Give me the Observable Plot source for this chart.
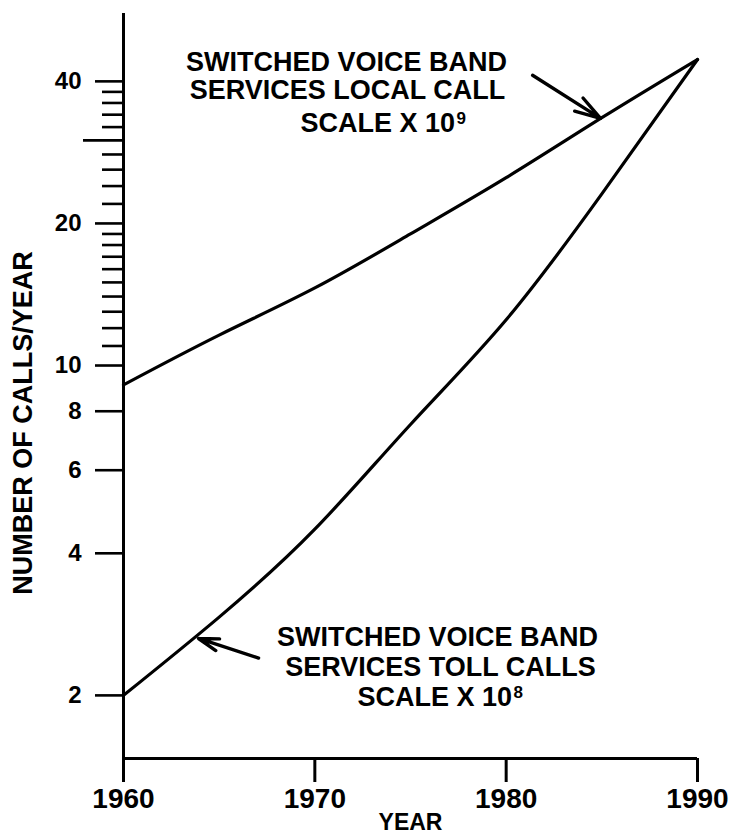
<!DOCTYPE html>
<html>
<head>
<meta charset="utf-8">
<script src="https://cdn.jsdelivr.net/npm/d3@7"></script>
<script src="https://cdn.jsdelivr.net/npm/@observablehq/plot@0.6"></script>
<style>
  html, body { margin: 0; padding: 0; background: #fff; }
  #chart svg { font-family: "Liberation Sans", Arial, sans-serif; font-weight: bold; background: #fff; }
</style>
</head>
<body>
<div id="chart"></div>
<script>
// ---- data ----
const years = [1960, 1965, 1970, 1975, 1980, 1985, 1990];
const localCalls = [9.1, 11.6, 14.6, 19.0, 25.0, 33.5, 44.5];   // x 10^9
const tollCalls  = [2.0, 2.93, 4.5, 7.5, 12.5, 23.1, 44.5];     // x 10^8

const xTicks = [1960, 1970, 1980, 1990];
const yTicksLabeled = [2, 4, 6, 8, 10, 20, 40];
const yTicksMinor = [11, 12, 13, 14, 15, 16, 17, 18, 19, 22, 24, 26, 28, 32, 34, 36, 38];
const yTicksMid = [30];
const yDomain = [1.47, 55.7];

const xTitle = "YEAR";
const yTitle = "NUMBER OF CALLS/YEAR";

// centred annotation lines
const labelLines = ["SWITCHED VOICE BAND", "SERVICES LOCAL CALL", "SWITCHED VOICE BAND", "SERVICES TOLL CALLS"];
const labelYear  = [1971.66, 1971.71, 1976.41, 1976.57];
const labelValue = [43.9, 38.3, 2.65, 2.29];

// "SCALE X 10" lines (left-anchored) and their exponents
const scaleLines = ["SCALE X 10", "SCALE X 10"];
const scaleYear  = [1969.25, 1972.23];
const scaleValue = [32.6, 1.98];
const exponents     = ["9", "8"];
const exponentYear  = [1977.40, 1980.38];
const exponentValue = [33.4, 2.03];

const arrowFromYear  = [1981.38, 1967.06];
const arrowFromValue = [41.2, 2.40];
const arrowToYear    = [1984.93, 1963.92];
const arrowToValue   = [33.4, 2.64];

// ---- tables built from the arrays ----
const localData = years.map((y, i) => ({year: y, value: localCalls[i]}));
const tollData  = years.map((y, i) => ({year: y, value: tollCalls[i]}));
const labels = labelLines.map((t, i) => ({text: t, year: labelYear[i], value: labelValue[i]}));
const scales = scaleLines.map((t, i) => ({text: t, year: scaleYear[i], value: scaleValue[i]}));
const exps = exponents.map((t, i) => ({text: t, year: exponentYear[i], value: exponentValue[i]}));
const arrows = arrowFromYear.map((d, i) => ({x1: d, y1: arrowFromValue[i], x2: arrowToYear[i], y2: arrowToValue[i]}));

const chart = Plot.plot({
  width: 742,
  height: 837,
  marginLeft: 123,
  marginRight: 45,
  marginTop: 13,
  marginBottom: 79,
  style: {background: "#fff", color: "#000", fontSize: "14px"},
  x: {domain: [1960, 1990], axis: null},
  y: {type: "log", domain: yDomain, axis: null},
  marks: [
    // axis lines
    Plot.ruleX([1960], {stroke: "#000", strokeWidth: 3}),
    Plot.ruleY([yDomain[0]], {stroke: "#000", strokeWidth: 3}),
    // x axis ticks & labels
    Plot.axisX(xTicks, {
      anchor: "bottom", tickSize: 24, tickPadding: 6, fontSize: 28,
      strokeWidth: 3, tickFormat: d => String(d), label: null
    }),
    // y axis labeled ticks
    Plot.axisY(yTicksLabeled, {
      anchor: "left", tickSize: 28, tickPadding: 14, fontSize: 24,
      strokeWidth: 2.6, tickFormat: d => String(d), label: null
    }),
    // y axis minor ticks
    Plot.axisY(yTicksMinor, {anchor: "left", tickSize: 21, strokeWidth: 2.6, fill: "none", label: null}),
    Plot.axisY(yTicksMid, {anchor: "left", tickSize: 40, strokeWidth: 2.6, fill: "none", label: null}),
    // axis titles
    Plot.text([xTitle], {frameAnchor: "bottom", textAnchor: "middle", lineAnchor: "middle", dy: 64, fontSize: 23, fill: "#000"}),
    Plot.text([yTitle], {frameAnchor: "left", textAnchor: "middle", lineAnchor: "middle", rotate: -90, dx: -100, dy: 37, fontSize: 27, fill: "#000"}),
    // curves
    Plot.line(localData, {x: "year", y: "value", curve: "natural", stroke: "#000", strokeWidth: 3.2}),
    Plot.line(tollData,  {x: "year", y: "value", curve: "natural", stroke: "#000", strokeWidth: 3.2}),
    // annotations
    Plot.text(labels, {x: "year", y: "value", text: "text", fontSize: 27, fill: "#000"}),
    Plot.text(scales, {x: "year", y: "value", text: "text", textAnchor: "start", fontSize: 27, fill: "#000"}),
    Plot.text(exps,   {x: "year", y: "value", text: "text", textAnchor: "start", fontSize: 17, fill: "#000"}),
    Plot.arrow(arrows, {x1: "x1", y1: "y1", x2: "x2", y2: "y2", stroke: "#000", strokeWidth: 3.4, headLength: 15, headAngle: 34})
  ]
});

document.getElementById("chart").appendChild(chart);
</script>
</body>
</html>
